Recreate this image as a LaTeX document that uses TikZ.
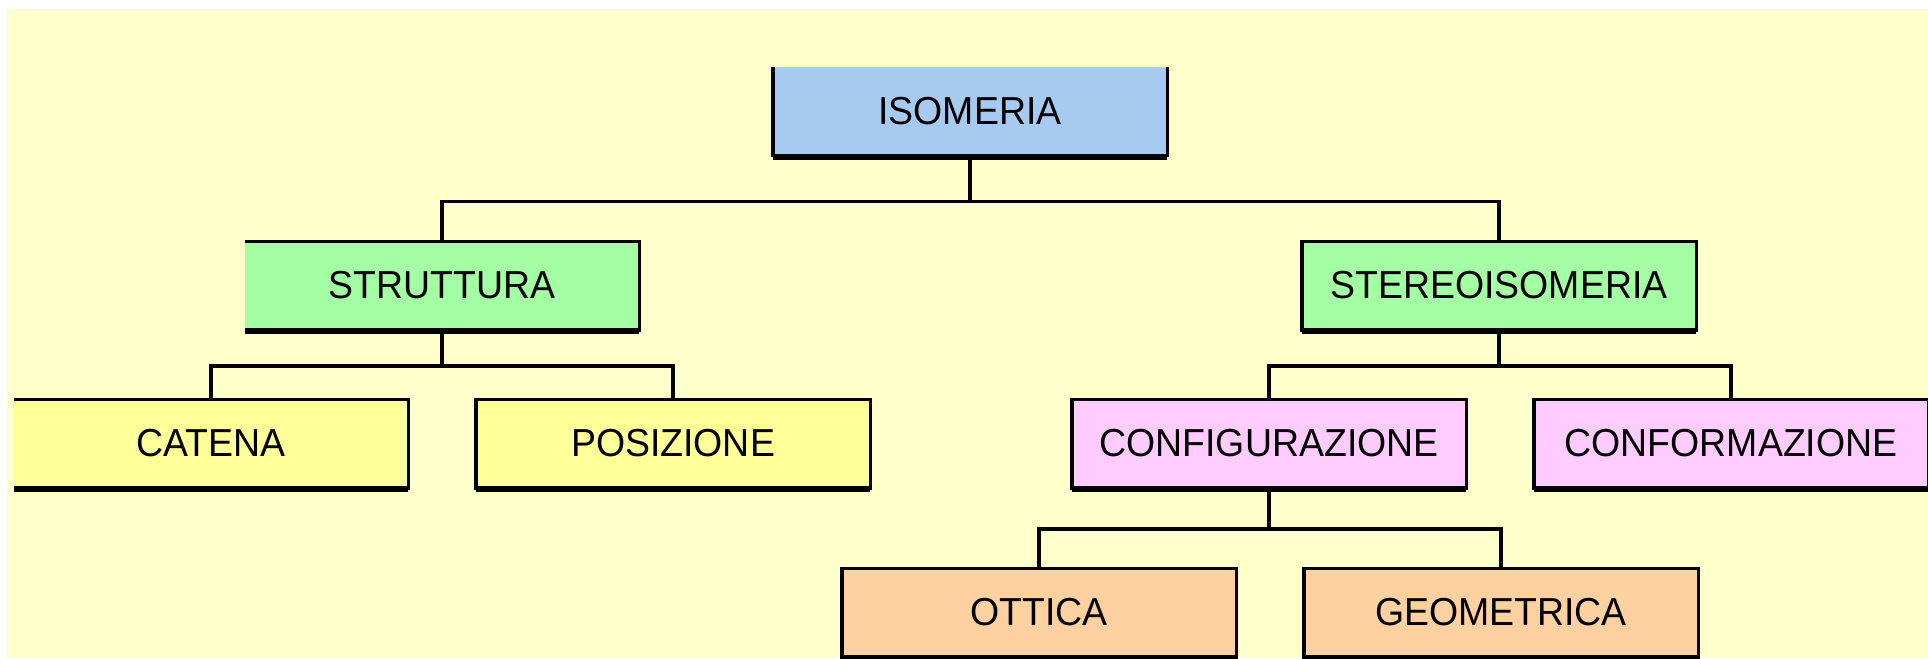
\documentclass[tikz,border=0pt]{standalone}
\usepackage{fontspec}
\setmainfont{Liberation Sans}[FakeStretch=0.96]
\usetikzlibrary{shadows}

\definecolor{bgyellow}{RGB}{255,255,204}
\definecolor{isoblue}{RGB}{166,202,240}
\definecolor{strgreen}{RGB}{164,255,164}
\definecolor{catyellow}{RGB}{255,255,153}
\definecolor{cfgpink}{RGB}{255,204,255}
\definecolor{ottorange}{RGB}{255,208,160}

\tikzset{
    box/.style={rectangle, draw=black, line width=0.035cm, outer sep=0pt, inner sep=0pt,
        minimum width=3.945cm, minimum height=0.885cm, font=\fontsize{11.1}{13}\selectfont,
        drop shadow={shadow xshift=0cm, shadow yshift=-0.045cm, opacity=1, fill=black}},
    openbox/.style={box, draw=none},
    link/.style={draw=black, line width=0.035cm},
}

\begin{document}
\begin{tikzpicture}
        \useasboundingbox (0, 0) rectangle (19.28, -6.58);
        \fill[bgyellow] (0.07, -0.09) rectangle (19.28, -6.58);

        % top
        \node[openbox, fill=isoblue] (iso) at (9.70, -1.11) {ISOMERIA};

        % second row
        \node[openbox, fill=strgreen] (str) at (4.42, -2.855) {STRUTTURA};
        \node[box, fill=strgreen] (ste) at (14.99, -2.855) {STEREOISOMERIA};

        % third row
        \node[openbox, fill=catyellow] (cat) at (2.11, -4.435) {CATENA};
        \node[box, fill=catyellow] (pos) at (6.73, -4.435) {POSIZIONE};
        \node[box, fill=cfgpink] (cfg) at (12.69, -4.435) {CONFIGURAZIONE};
        \node[box, fill=cfgpink] (cfm) at (17.31, -4.435) {CONFORMAZIONE};

        % fourth row
        \node[box, fill=ottorange] (ott) at (10.39, -6.125) {OTTICA};
        \node[box, fill=ottorange] (geo) at (15.01, -6.125) {GEOMETRICA};

        % borders of the open boxes
        \draw[link] (iso.north west) -- (iso.south west) -- (iso.south east) -- (iso.north east);
        \draw[link] (str.south west) -- (str.south east) -- (str.north east) -- (str.north west);
        \draw[link] (cat.south west) -- (cat.south east) -- (cat.north east) -- (cat.north west);

        % connectors
        \draw[link] (iso.south) -- ++(0, -0.46) -| (str.north);
        \draw[link] (iso.south) -- ++(0, -0.46) -| (ste.north);
        \draw[link] (str.south) -- ++(0, -0.36) -| (cat.north);
        \draw[link] (str.south) -- ++(0, -0.36) -| (pos.north);
        \draw[link] (ste.south) -- ++(0, -0.36) -| (cfg.north);
        \draw[link] (ste.south) -- ++(0, -0.36) -| (cfm.north);
        \draw[link] (cfg.south) -- ++(0, -0.41) -| (ott.north);
        \draw[link] (cfg.south) -- ++(0, -0.41) -| (geo.north);
    \end{tikzpicture}
\end{document}
